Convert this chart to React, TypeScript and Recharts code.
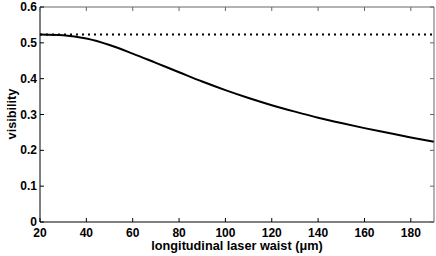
import React from 'react';
import { LineChart, Line, XAxis, YAxis, ReferenceLine } from 'recharts';

const waist = [20, 30, 40, 50, 60, 70, 80, 90, 100, 110, 120, 130, 140, 150, 160, 170, 180, 190];
const visibility = [0.523, 0.521, 0.512, 0.494, 0.47, 0.444, 0.418, 0.392, 0.368, 0.346, 0.326, 0.308, 0.291, 0.276, 0.262, 0.249, 0.236, 0.224];
const limit = 0.523;

const xTicks = [20, 40, 60, 80, 100, 120, 140, 160, 180];
const yTicks = [0, 0.1, 0.2, 0.3, 0.4, 0.5, 0.6];

const data = waist.map((w, i) => ({ w, v: visibility[i] }));

const FONT = '"Liberation Sans", Arial, Helvetica, sans-serif';
const TICK = 4;

const BottomTick = (props: any) => {
  const { x, y, payload } = props;
  return (
    <g>
      <line x1={x} y1={y} x2={x} y2={y - TICK} stroke="#000" />
      <text x={x} y={y + 15} textAnchor="middle" fontSize={12} fontWeight="bold" fontFamily={FONT} fill="#000">
        {payload.value}
      </text>
    </g>
  );
};

const LeftTick = (props: any) => {
  const { x, y, payload } = props;
  const label = payload.value === 0 ? '0' : payload.value.toFixed(1);
  return (
    <g>
      <line x1={x} y1={y} x2={x + TICK} y2={y} stroke="#000" />
      <text x={x - 3} y={y + 4} textAnchor="end" fontSize={12} fontWeight="bold" fontFamily={FONT} fill="#000">
        {label}
      </text>
    </g>
  );
};

const TopTick = (props: any) => {
  const { x, y } = props;
  return <line x1={x} y1={y} x2={x} y2={y + TICK} stroke="#666" />;
};

const RightTick = (props: any) => {
  const { x, y } = props;
  return <line x1={x} y1={y} x2={x - TICK} y2={y} stroke="#666" />;
};

export default function App() {
  return (
    <div style={{ position: 'absolute', left: 0, top: 0, width: 436, height: 256, background: '#fff' }}>
      <LineChart width={436} height={256} data={data} margin={{ top: 6, right: 1, bottom: 0, left: 0 }}>
        <XAxis
          dataKey="w"
          type="number"
          domain={[20, 190]}
          ticks={xTicks}
          height={34}
          tickSize={0}
          tickMargin={0}
          tickLine={false}
          axisLine={{ stroke: '#000' }}
          tick={<BottomTick />}
          interval={0}
        />
        <XAxis
          xAxisId="top"
          orientation="top"
          dataKey="w"
          type="number"
          domain={[20, 190]}
          ticks={xTicks}
          height={1}
          tickSize={0}
          tickMargin={0}
          tickLine={false}
          axisLine={{ stroke: '#666' }}
          tick={<TopTick />}
          interval={0}
        />
        <YAxis
          type="number"
          domain={[0, 0.6]}
          ticks={yTicks}
          width={40}
          tickSize={0}
          tickMargin={0}
          tickLine={false}
          axisLine={{ stroke: '#000' }}
          tick={<LeftTick />}
          interval={0}
        />
        <YAxis
          yAxisId="right"
          orientation="right"
          type="number"
          domain={[0, 0.6]}
          ticks={yTicks}
          width={1}
          tickSize={0}
          tickMargin={0}
          tickLine={false}
          axisLine={{ stroke: '#666' }}
          tick={<RightTick />}
          interval={0}
        />
        <ReferenceLine y={limit} stroke="#000" strokeWidth={2} strokeDasharray="2 4" />
        {/* invisible copy so the top/right frame axes get a domain */}
        <Line
          xAxisId="top"
          yAxisId="right"
          dataKey="v"
          stroke="none"
          dot={false}
          activeDot={false}
          legendType="none"
          isAnimationActive={false}
        />
        <Line
          dataKey="v"
          type="monotone"
          stroke="#000"
          strokeWidth={2}
          dot={false}
          isAnimationActive={false}
        />
      </LineChart>
      <svg width={436} height={256} style={{ position: 'absolute', left: 0, top: 0, pointerEvents: 'none' }}>
        <text x={237} y={249.5} textAnchor="middle" fontSize={12.7} fontWeight="bold" fontFamily={FONT} fill="#000">
          longitudinal laser waist (μm)
        </text>
        <text
          x={16}
          y={114}
          transform="rotate(-90 16 114)"
          textAnchor="middle"
          fontSize={12.7}
          fontWeight="bold"
          fontFamily={FONT}
          fill="#000"
        >
          visibility
        </text>
      </svg>
    </div>
  );
}
